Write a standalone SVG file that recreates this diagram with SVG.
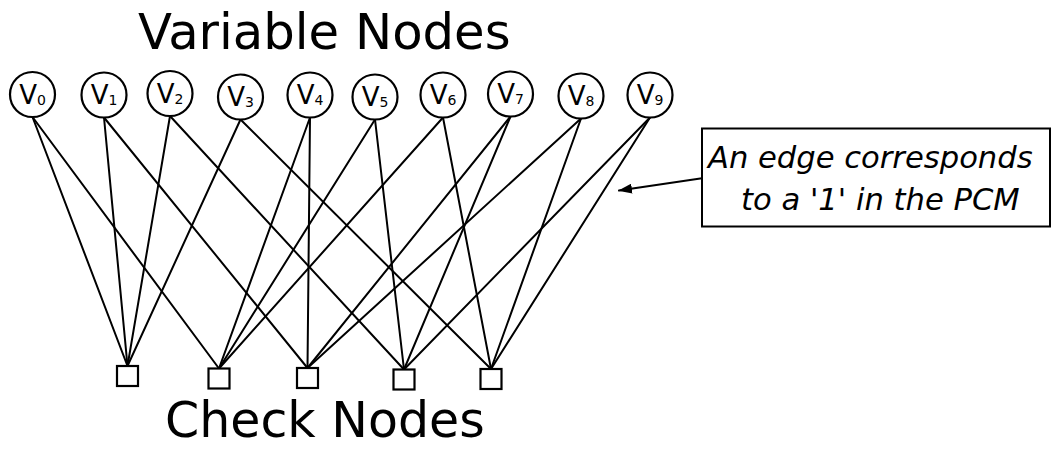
<svg xmlns="http://www.w3.org/2000/svg" width="1052" height="453" viewBox="0 0 1052 453">
<defs>
<style>
.title{font-family:"DejaVu Sans",sans-serif;font-size:49.7px;fill:#000}
.vlab{font-family:"DejaVu Sans",sans-serif;font-size:26px;fill:#000;text-anchor:middle}
.sub{font-size:14px}
.note{font-family:"DejaVu Sans",sans-serif;font-size:30.6px;font-style:italic;fill:#000}
.var circle{fill:#fff;stroke:#000;stroke-width:2.2}
.chk rect{fill:#fff;stroke:#000;stroke-width:2.2}
#edges line{stroke:#000;stroke-width:2;stroke-linecap:round}
</style>
<marker id="ah" markerWidth="14" markerHeight="10" refX="13" refY="5" orient="auto" markerUnits="userSpaceOnUse">
<path d="M0,0 L14,5 L0,10 Z" fill="#000"/>
</marker>
</defs>
<rect width="1052" height="453" fill="#fff"/>
<text class="title" x="138" y="49">Variable Nodes</text>
<text class="title" x="165" y="437" style="font-size:49px">Check Nodes</text>

<g id="edges">
<!-- V0 -->
<line x1="32.5" y1="117" x2="127.5" y2="366"/>
<line x1="32.5" y1="117" x2="219" y2="368.5"/>
<!-- V1 -->
<line x1="104" y1="117.5" x2="127.5" y2="366"/>
<line x1="104" y1="117.5" x2="307.5" y2="368"/>
<!-- V2 -->
<line x1="170" y1="116" x2="127.5" y2="366"/>
<line x1="170" y1="116" x2="404" y2="369.5"/>
<!-- V3 -->
<line x1="240.5" y1="119.5" x2="127.5" y2="366"/>
<line x1="240.5" y1="119.5" x2="491" y2="369"/>
<!-- V4 -->
<line x1="310" y1="117.5" x2="219" y2="368.5"/>
<line x1="310" y1="117.5" x2="307.5" y2="368"/>
<!-- V5 -->
<line x1="375" y1="119.5" x2="219" y2="368.5"/>
<line x1="375" y1="119.5" x2="404" y2="369.5"/>
<!-- V6 -->
<line x1="443" y1="117.5" x2="219" y2="368.5"/>
<line x1="443" y1="117.5" x2="491" y2="369"/>
<!-- V7 -->
<line x1="510.5" y1="116.5" x2="307.5" y2="368"/>
<line x1="510.5" y1="116.5" x2="404" y2="369.5"/>
<!-- V8 -->
<line x1="581" y1="118.5" x2="307.5" y2="368"/>
<line x1="581" y1="118.5" x2="491" y2="369"/>
<!-- V9 -->
<line x1="650" y1="117.5" x2="404" y2="369.5"/>
<line x1="650" y1="117.5" x2="491" y2="369"/>
<!-- annotation arrow -->
<line x1="702" y1="178.3" x2="619" y2="190.5" marker-end="url(#ah)"/>
</g>

<g id="v0" class="var"><circle cx="32.5" cy="94.5" r="22.5"/><text class="vlab" x="32.5" y="103.5">V<tspan class="sub" dy="1">0</tspan></text></g>
<g id="v1" class="var"><circle cx="104" cy="95" r="22.5"/><text class="vlab" x="104" y="104">V<tspan class="sub" dy="1">1</tspan></text></g>
<g id="v2" class="var"><circle cx="170" cy="93.5" r="22.5"/><text class="vlab" x="170" y="102.5">V<tspan class="sub" dy="1">2</tspan></text></g>
<g id="v3" class="var"><circle cx="240.5" cy="97" r="22.5"/><text class="vlab" x="240.5" y="106">V<tspan class="sub" dy="1">3</tspan></text></g>
<g id="v4" class="var"><circle cx="310" cy="95" r="22.5"/><text class="vlab" x="310" y="104">V<tspan class="sub" dy="1">4</tspan></text></g>
<g id="v5" class="var"><circle cx="375" cy="97" r="22.5"/><text class="vlab" x="375" y="106">V<tspan class="sub" dy="1">5</tspan></text></g>
<g id="v6" class="var"><circle cx="443" cy="95" r="22.5"/><text class="vlab" x="443" y="104">V<tspan class="sub" dy="1">6</tspan></text></g>
<g id="v7" class="var"><circle cx="510.5" cy="94" r="22.5"/><text class="vlab" x="510.5" y="103">V<tspan class="sub" dy="1">7</tspan></text></g>
<g id="v8" class="var"><circle cx="581" cy="96" r="22.5"/><text class="vlab" x="581" y="105">V<tspan class="sub" dy="1">8</tspan></text></g>
<g id="v9" class="var"><circle cx="650" cy="95" r="22.5"/><text class="vlab" x="650" y="104">V<tspan class="sub" dy="1">9</tspan></text></g>

<g id="c1" class="chk"><rect x="117" y="366" width="21" height="20"/></g>
<g id="c2" class="chk"><rect x="208.5" y="368.5" width="21" height="20"/></g>
<g id="c3" class="chk"><rect x="297" y="368" width="21" height="20"/></g>
<g id="c4" class="chk"><rect x="393.5" y="369.5" width="21" height="20"/></g>
<g id="c5" class="chk"><rect x="480.5" y="369" width="21" height="20"/></g>

<g id="note">
<rect x="702" y="128.5" width="348" height="98" fill="#fff" stroke="#000" stroke-width="2"/>
<text class="note" x="708" y="168">An edge corresponds</text>
<text class="note" x="741" y="210">to a '1' in the PCM</text>
</g>
</svg>
